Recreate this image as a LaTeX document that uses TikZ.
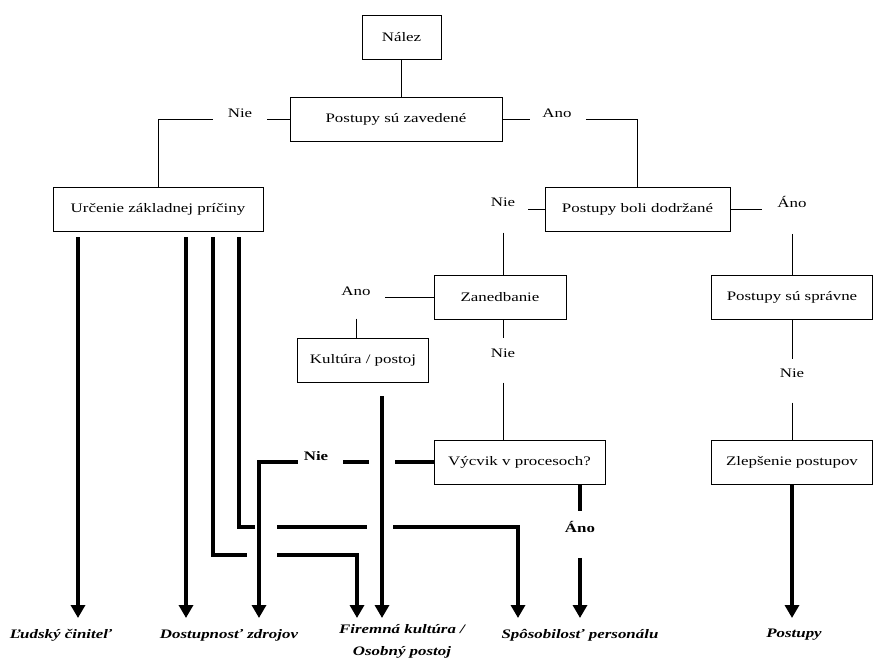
\documentclass[tikz,border=0pt]{standalone}
\usepackage{fontspec}
\setmainfont{Liberation Serif}[FakeStretch=1.3]
\usepackage{tikz}
\usetikzlibrary{arrows.meta, positioning, calc}

\begin{document}
\begin{tikzpicture}[
    x=1pt, y=-1pt,
    box/.style={draw, line width=0.9pt, minimum height=44pt, inner sep=0pt,
                font=\fontsize{13}{15}\selectfont},
    lbl/.style={font=\fontsize{13}{15}\selectfont, inner sep=0pt},
    blbl/.style={font=\fontsize{13}{15}\selectfont\bfseries, inner sep=0pt},
    res/.style={font=\fontsize{13}{22}\selectfont\bfseries\itshape, align=center, inner sep=0pt},
    link/.style={line width=0.9pt},
    flow/.style={line width=4pt},
    flowarr/.style={flow, -{Triangle[width=14pt, length=13pt]}}
  ]
    \fill[white] (0,0) rectangle (873,659);
    \useasboundingbox (0,0) rectangle (873,659);

    \node[box, minimum width=79pt] (nalez) at (401.5,37) {Nález};
    \node[box, minimum width=212pt] (zav) at (396,119) {Postupy sú zavedené};
    \node[box, minimum width=210pt] (urc) at (158,209) {Určenie základnej príčiny};
    \node[box, minimum width=185pt] (dodr) at (637.5,209) {Postupy boli dodržané};
    \node[box, minimum width=132pt] (zan) at (500,297) {Zanedbanie};
    \node[box, minimum width=161pt] (spr) at (792,297) {Postupy sú správne};
    \node[box, minimum width=131pt] (kult) at (363,360) {Kultúra / postoj};
    \node[box, minimum width=171pt] (vyc) at (519.5,462) {Výcvik v procesoch?};
    \node[box, minimum width=161pt] (zlep) at (792,462) {Zlepšenie postupov};

    \node[lbl] (nie1) at (240,113) {Nie};
    \node[lbl] (ano1) at (557,113) {Ano};
    \node[lbl] (nie2) at (503,202) {Nie};
    \node[lbl] (ano2) at (792,202) {Áno};
    \node[lbl] (ano3) at (356,291) {Ano};
    \node[lbl] (nie3) at (503,353) {Nie};
    \node[lbl] (nie4) at (792,373) {Nie};
    \node[blbl] (nie5) at (316,456) {Nie};
    \node[blbl] (ano4) at (580,527) {Áno};

    \node[res] (lud) at (61,635) {Ľudský činiteľ};
    \node[res] (dost) at (229,635) {Dostupnosť zdrojov};
    \node[res] (fir) at (402,641) {Firemná kultúra /\\Osobný postoj};
    \node[res] (spo) at (580,635) {Spôsobilosť personálu};
    \node[res] (post) at (794,635) {Postupy};

    \coordinate (tips) at (0,618);
    \coordinate (u1) at (78,237);
    \coordinate (u2) at (186,237);
    \coordinate (u3) at (213,237);
    \coordinate (u4) at (239,237);
    \coordinate (dx) at (259,0);
    \coordinate (kx) at (382,396);
    \coordinate (r3) at (357,555);
    \coordinate (r4) at (518,527);

    % thin decision lines
    \draw[link] (nalez.south) -- (nalez.south |- zav.north);
    \draw[link, shorten >=15pt] (zav.west) -- (zav.west -| nie1.east);
    \draw[link, shorten <=15pt] (zav.west -| nie1.west) -| (urc.north);
    \draw[link, shorten >=12pt] (zav.east) -- (zav.east -| ano1.west);
    \draw[link, shorten <=14pt] (zav.east -| ano1.east) -| (dodr.north);
    \draw[link, shorten >=13pt] (dodr.west) -- (dodr.west -| nie2.east);
    \draw[link, shorten <=26pt] (nie2.south) -- (nie2.south |- zan.north);
    \draw[link, shorten >=15pt] (dodr.east) -- (dodr.east -| ano2.west);
    \draw[link, shorten <=26pt] (ano2.south) -- (ano2.south |- spr.north);
    \draw[link, shorten >=14pt] (zan.west) -- (zan.west -| ano3.east);
    \draw[link, shorten <=23pt] (ano3.south) -- (ano3.south |- kult.north);
    \draw[link, shorten >=10pt] (zan.south -| nie3) -- (nie3.north);
    \draw[link, shorten <=25pt] (nie3.south) -- (nie3.south |- vyc.north);
    \draw[link, shorten >=9pt] (spr.south -| nie4) -- (nie4.north);
    \draw[link, shorten <=25pt] (nie4.south) -- (nie4.south |- zlep.north);

    % thick result arrows
    \draw[flowarr] (zlep.south) -- (zlep.south |- tips);
    \draw[flow, shorten >=10pt] (vyc.south -| ano4) -- (ano4.north);
    \draw[flowarr, shorten <=25pt] (ano4.south) -- (ano4.south |- tips);
    \draw[flowarr] (kx) -- (kx |- tips);
    \draw[flow, shorten >=13pt] (vyc.west) -- (vyc.west -| kx);
    \draw[flow, shorten <=13pt, shorten >=15pt] (vyc.west -| kx) -- (vyc.west -| nie5.east);
    \draw[flowarr, shorten <=6pt] (vyc.west -| nie5.west) -| (dx |- tips);
    \draw[flowarr] (u1) -- (u1 |- tips);
    \draw[flowarr] (u2) -- (u2 |- tips);
    \draw[flow, shorten >=12pt] (u3) |- (dx |- r3);
    \draw[flowarr, shorten <=18pt] (dx |- r3) -| (r3 |- tips);
    \draw[flow, shorten >=4pt] (u4) |- (dx |- r4);
    \draw[flow, shorten <=18pt, shorten >=15pt] (dx |- r4) -- (kx |- r4);
    \draw[flowarr, shorten <=11pt] (kx |- r4) -| (r4 |- tips);
  \end{tikzpicture}
\end{document}
